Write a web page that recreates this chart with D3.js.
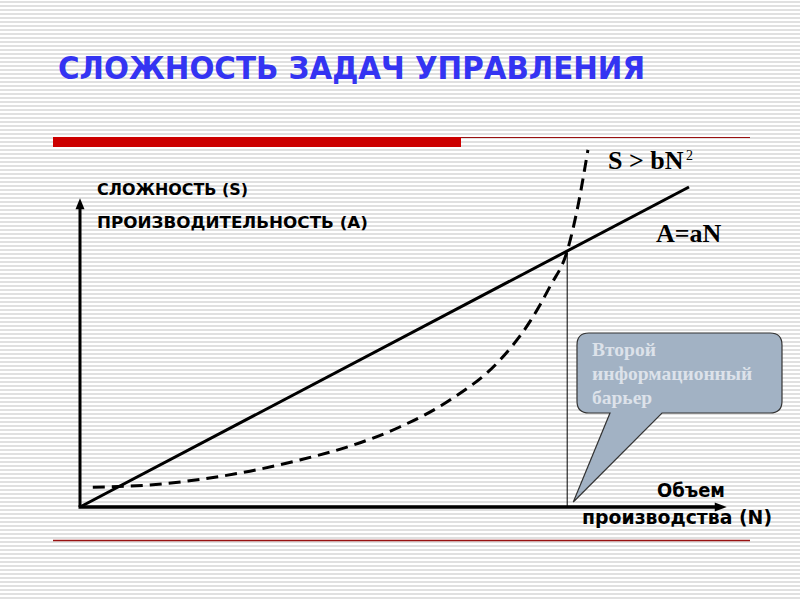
<!DOCTYPE html>
<html>
<head>
<meta charset="utf-8">
<script src="https://cdn.jsdelivr.net/npm/d3@7"></script>
<style>
  body { margin: 0; background: #fff; }
  svg { display: block; }
</style>
</head>
<body>
<script>
const w = 800;
const h = 600;

// S > bN^2 curve (N, S in chart units)
const curveN = [0.21, 1.15, 2.0, 2.79, 3.61, 4.43, 5.25, 6.08, 6.9, 7.39, 7.72, 8.0, 8.18, 8.34];
const curveS = [0.62, 0.69, 0.87, 1.12, 1.47, 1.9, 2.5, 3.35, 4.6, 5.8, 6.9, 8.0, 9.44, 11.16];

// A = aN line
const lineN = [0, 10];
const lineA = [0, 10];

// barrier point
const barrierN = 8;
const barrierS = 8;

const titleText = 'СЛОЖНОСТЬ  ЗАДАЧ  УПРАВЛЕНИЯ';
const yLabels = ['СЛОЖНОСТЬ  (S)', 'ПРОИЗВОДИТЕЛЬНОСТЬ  (А)'];
const xLabels = ['Объем', 'производства  (N)'];
const calloutLines = ['Второй', 'информационный', 'барьер'];

const xScale = d3.scaleLinear().domain([0, 10]).range([80, 689]);
const yScale = d3.scaleLinear().domain([0, 10]).range([507, 187]);

const svg = d3.select('body').append('svg')
  .attr('width', w)
  .attr('height', h);

// lined paper background
const defs = svg.append('defs');
const pat = defs.append('pattern')
  .attr('id', 'lines')
  .attr('patternUnits', 'userSpaceOnUse')
  .attr('width', 8).attr('height', 4);
pat.append('rect').attr('width', 8).attr('height', 4).attr('fill', '#fff');
pat.append('rect').attr('y', 1).attr('width', 8).attr('height', 2).attr('fill', '#e0e0e0');
svg.append('rect').attr('width', w).attr('height', h).attr('fill', 'url(#lines)');

// title
svg.append('text')
  .attr('x', 58).attr('y', 79)
  .attr('textLength', 587).attr('lengthAdjust', 'spacingAndGlyphs')
  .style('font-family', 'DejaVu Sans')
  .style('font-weight', 'bold')
  .style('font-size', '32px')
  .style('fill', '#3434f2')
  .text(titleText);

// red rules
svg.append('rect').attr('x', 53).attr('y', 137).attr('width', 408).attr('height', 10).attr('fill', '#cc0000');
svg.append('line').attr('x1', 461).attr('x2', 750).attr('y1', 137.5).attr('y2', 137.5)
  .attr('stroke', '#991111').attr('stroke-width', 1.2);
svg.append('line').attr('x1', 53).attr('x2', 750).attr('y1', 540.5).attr('y2', 540.5)
  .attr('stroke', '#991111').attr('stroke-width', 1.5);

// axes
const x0 = xScale(0), y0 = yScale(0);
const yTop = yScale(9.65);
const xEnd = xScale(10.62);
svg.append('line').attr('x1', x0).attr('y1', y0).attr('x2', x0).attr('y2', yTop + 8)
  .attr('stroke', '#000').attr('stroke-width', 3);
svg.append('path')
  .attr('d', `M${x0},${yTop} L${x0 - 4.5},${yTop + 11} L${x0 + 4.5},${yTop + 11} Z`)
  .attr('fill', '#000');
svg.append('line').attr('x1', x0 - 1.5).attr('y1', y0).attr('x2', xEnd - 8).attr('y2', y0)
  .attr('stroke', '#000').attr('stroke-width', 3.5);
svg.append('path')
  .attr('d', `M${xEnd},${y0} L${xEnd - 12},${y0 - 4.5} L${xEnd - 12},${y0 + 4.5} Z`)
  .attr('fill', '#000');

// drop line at barrier
svg.append('line')
  .attr('x1', xScale(barrierN)).attr('x2', xScale(barrierN))
  .attr('y1', yScale(barrierS)).attr('y2', yScale(0))
  .attr('stroke', '#000').attr('stroke-width', 1);

// A = aN
const lineData = lineN.map((n, i) => [n, lineA[i]]);
svg.append('path')
  .datum(lineData)
  .attr('d', d3.line().x(d => xScale(d[0])).y(d => yScale(d[1])))
  .attr('fill', 'none').attr('stroke', '#000').attr('stroke-width', 3);

// S > bN^2
const curveData = curveN.map((n, i) => [n, curveS[i]]);
svg.append('path')
  .datum(curveData)
  .attr('d', d3.line().curve(d3.curveMonotoneX).x(d => xScale(d[0])).y(d => yScale(d[1])))
  .attr('fill', 'none').attr('stroke', '#000').attr('stroke-width', 3)
  .attr('stroke-dasharray', '12,7');

// axis captions
const comic = (sel, size) => sel
  .style('font-family', 'DejaVu Sans')
  .style('font-weight', 'bold')
  .style('font-size', size + 'px')
  .style('fill', '#000');

comic(svg.append('text').attr('x', 97).attr('y', 195)
  .attr('textLength', 151).attr('lengthAdjust', 'spacingAndGlyphs').text(yLabels[0]), 15);
comic(svg.append('text').attr('x', 97).attr('y', 228)
  .attr('textLength', 271).attr('lengthAdjust', 'spacingAndGlyphs').text(yLabels[1]), 15);

comic(svg.append('text').attr('x', 657).attr('y', 497)
  .attr('textLength', 68).attr('lengthAdjust', 'spacingAndGlyphs').text(xLabels[0]), 19);
comic(svg.append('text').attr('x', 582).attr('y', 524)
  .attr('textLength', 190).attr('lengthAdjust', 'spacingAndGlyphs').text(xLabels[1]), 19);

// formula labels
const serif = (sel, size, weight) => sel
  .style('font-family', 'Liberation Serif')
  .style('font-weight', weight)
  .style('font-size', size + 'px')
  .style('fill', '#000');

serif(svg.append('text').attr('x', 608).attr('y', 169).text('S > bN'), 26, 'bold');
serif(svg.append('text').attr('x', 686).attr('y', 160).text('2'), 14, 'normal');
serif(svg.append('text').attr('x', 656).attr('y', 242).text('A=aN'), 26, 'bold');

// callout
const bx0 = 577, by0 = 333, bx1 = 782, by1 = 413, r = 12;
const tipX = xScale(8.1), tipY = yScale(0) - 5;
const callout = `M${bx0 + r},${by0} H${bx1 - r} Q${bx1},${by0} ${bx1},${by0 + r}` +
  ` V${by1 - r} Q${bx1},${by1} ${bx1 - r},${by1} H662 L${tipX},${tipY} L610,${by1}` +
  ` H${bx0 + r} Q${bx0},${by1} ${bx0},${by1 - r} V${by0 + r} Q${bx0},${by0} ${bx0 + r},${by0} Z`;
svg.append('path').attr('d', callout)
  .attr('fill', '#a2b2c4').attr('stroke', '#333').attr('stroke-width', 1.2);

svg.selectAll('text.callout')
  .data(calloutLines)
  .enter()
  .append('text')
  .attr('class', 'callout')
  .attr('x', 592)
  .attr('y', (d, i) => 356 + i * 24)
  .style('font-family', 'Liberation Serif')
  .style('font-weight', 'bold')
  .style('font-size', '19.5px')
  .style('fill', '#dde2ea')
  .text(d => d);
</script>
</body>
</html>
